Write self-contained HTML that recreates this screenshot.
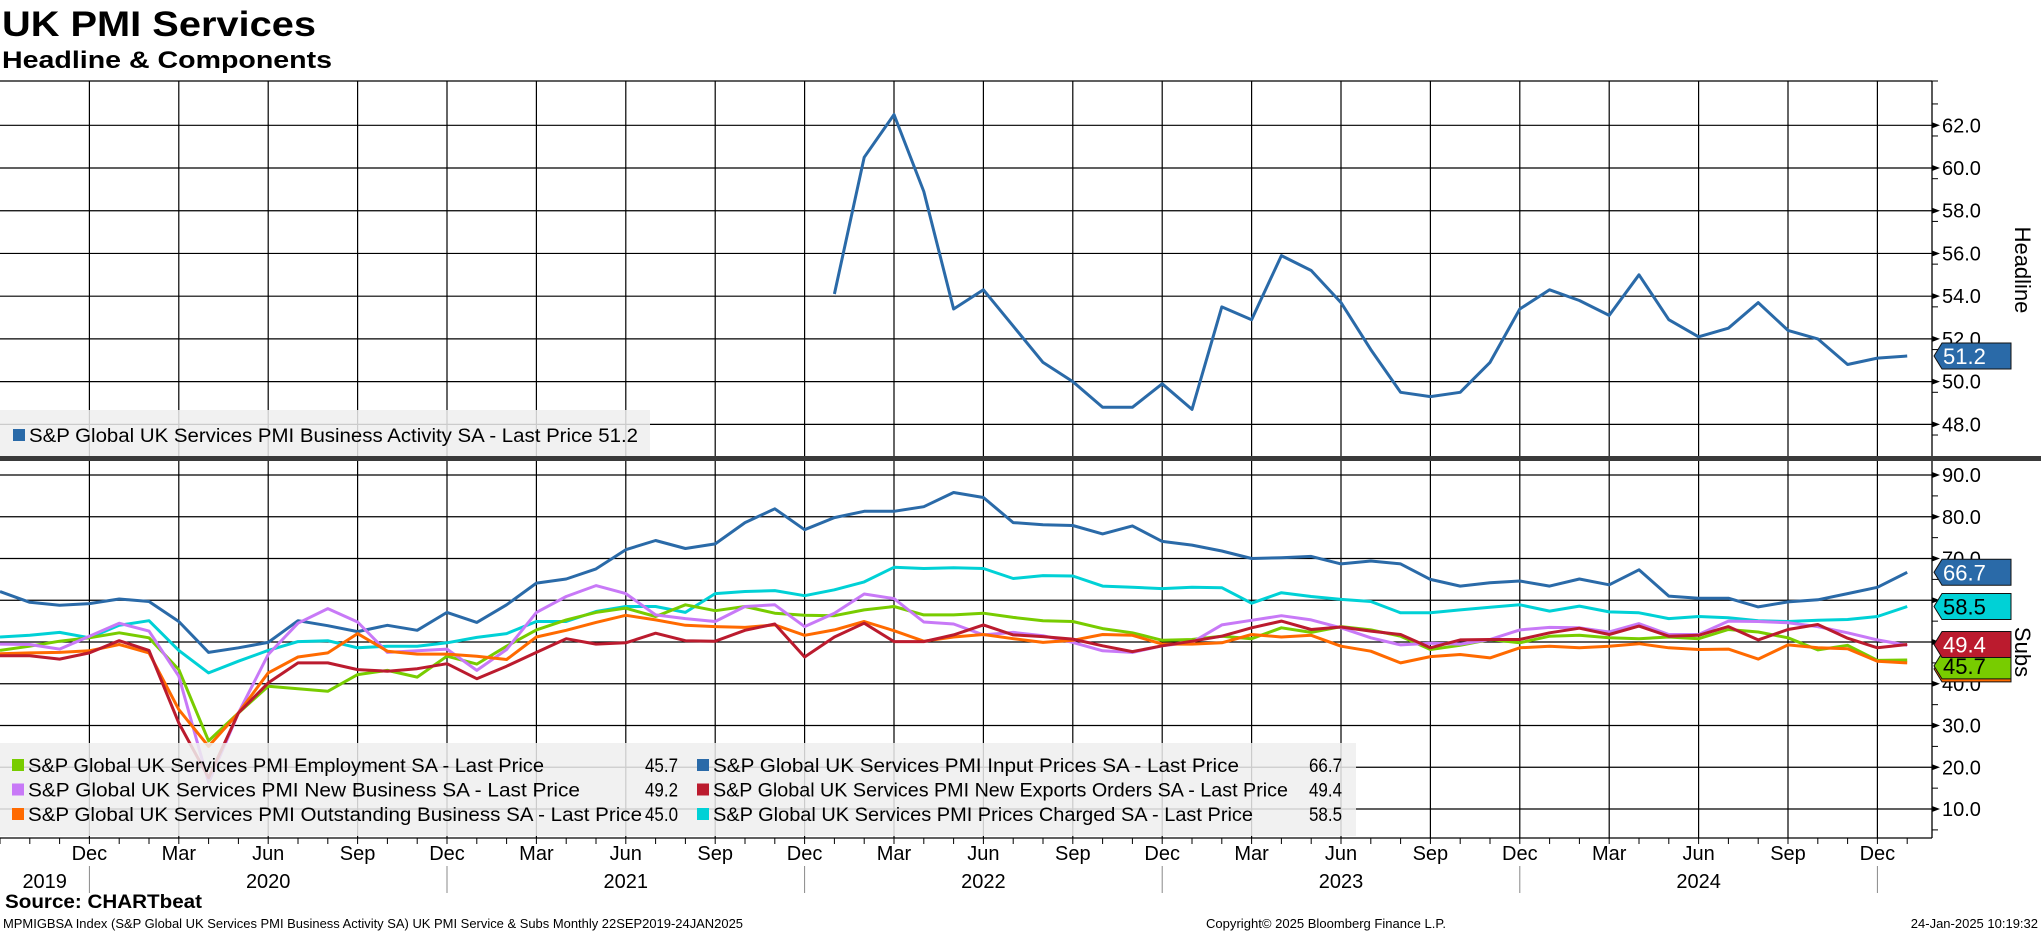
<!DOCTYPE html>
<html><head><meta charset="utf-8"><style>
html,body{margin:0;padding:0;background:#fff;}
svg{display:block;font-family:"Liberation Sans","DejaVu Sans",sans-serif;}
</style></head><body>
<svg id="chart" width="2041" height="932" viewBox="0 0 2041 932" xmlns="http://www.w3.org/2000/svg">
<text x="2" y="36" font-size="35" font-weight="bold" textLength="314" lengthAdjust="spacingAndGlyphs">UK PMI Services</text>
<text x="2" y="68" font-size="24" font-weight="bold" textLength="330" lengthAdjust="spacingAndGlyphs">Headline &amp; Components</text>
<g id="grid"></g>
<g id="lines"></g>
<g id="overlay"></g>
<text x="5" y="908" font-size="19" font-weight="bold" textLength="197" lengthAdjust="spacingAndGlyphs">Source: CHARTbeat</text>
<text x="3" y="928" font-size="13" textLength="740" lengthAdjust="spacingAndGlyphs">MPMIGBSA Index (S&amp;P Global UK Services PMI Business Activity SA) UK PMI Service &amp; Subs  Monthly 22SEP2019-24JAN2025</text>
<text x="1206" y="928" font-size="13" textLength="240" lengthAdjust="spacingAndGlyphs">Copyright© 2025 Bloomberg Finance L.P.</text>
<text x="2038" y="928" font-size="13" text-anchor="end">24-Jan-2025 10:19:32</text>
</svg>
<script>
// months from Sep 2019 (index 0) to Jan 2025 (index 64)
const headlineStart = 28; // Jan 2022
const headline = [54.1,60.5,62.5,58.9,53.4,54.3,52.6,50.9,50.0,48.8,48.8,49.9,48.7,53.5,52.9,55.9,55.2,53.7,51.5,49.5,49.3,49.5,50.9,53.4,54.3,53.8,53.1,55.0,52.9,52.1,52.5,53.7,52.4,52.0,50.8,51.1,51.2];
const inputPrices = [62.1,59.5,58.8,59.2,60.3,59.7,54.9,47.5,48.6,49.9,55.1,53.9,52.5,54.0,52.8,57.1,54.7,58.9,64.1,65.1,67.5,72.1,74.3,72.4,73.5,78.6,81.9,76.9,79.8,81.3,81.3,82.4,85.8,84.6,78.6,78.1,77.9,75.9,77.8,74.1,73.2,71.8,70.0,70.2,70.5,68.7,69.4,68.7,65.0,63.4,64.2,64.6,63.4,65.1,63.7,67.3,61.0,60.5,60.5,58.4,59.6,60.1,61.6,63.1,66.7];
const pricesCharged = [51.2,51.6,52.3,51.0,54.0,55.1,48.0,42.6,45.4,48.0,50.1,50.3,48.6,49.0,49.0,49.8,51.1,52.0,54.9,54.9,57.3,58.5,58.5,57.1,61.6,62.1,62.3,61.1,62.5,64.4,67.9,67.6,67.8,67.6,65.2,65.9,65.8,63.4,63.1,62.8,63.1,63.0,59.3,61.8,60.9,60.2,59.7,57.0,57.0,57.7,58.3,58.9,57.4,58.6,57.2,57.0,55.6,56.1,55.8,55.1,54.9,55.2,55.4,56.1,58.5];
const employment = [48.0,49.0,50.2,51.0,52.2,51.0,43.4,26.3,33.0,39.4,38.8,38.2,42.2,43.2,41.6,46.6,44.7,49.0,52.9,55.3,57.1,58.1,56.1,58.9,57.5,58.5,56.9,56.4,56.3,57.7,58.5,56.5,56.5,56.9,55.9,55.1,54.9,53.2,52.2,50.4,50.6,51.4,50.8,53.4,52.3,53.7,52.9,51.4,48.2,49.2,50.6,49.8,51.4,51.6,51.0,50.8,51.2,50.8,53.0,52.4,51.0,48.1,49.2,45.6,45.7];
const newBusiness = [49.5,49.4,48.3,51.4,54.5,52.6,41.8,16.3,33.0,47.0,54.5,58.0,54.8,47.5,47.9,48.3,43.2,48.2,57.1,60.9,63.5,61.6,56.5,55.6,54.9,58.5,58.9,53.7,56.9,61.5,60.4,54.8,54.3,51.7,52.3,51.5,49.9,47.9,47.5,49.1,49.9,54.1,55.2,56.3,55.3,53.4,51.0,49.3,49.7,49.5,50.6,52.9,53.5,53.4,52.4,54.4,51.8,51.8,55.0,54.9,54.6,53.7,52.2,50.5,49.2];
const newExports = [46.7,46.7,45.9,47.4,50.3,48.0,30.6,17.5,33.0,40.2,45.0,45.0,43.4,43.0,43.6,44.8,41.2,44.2,47.5,50.8,49.5,49.8,52.1,50.3,50.2,52.8,54.3,46.4,51.2,54.5,50.1,50.1,51.7,54.1,51.7,51.3,50.7,49.1,47.7,49.1,50.2,51.4,53.4,55.0,53.0,53.6,52.6,51.8,48.6,50.5,50.6,50.6,52.2,53.3,51.8,53.8,51.4,51.6,53.7,50.5,53.0,54.2,50.9,48.6,49.4];
const outstanding = [47.2,47.4,47.5,47.9,49.4,47.4,33.8,25.0,33.0,42.6,46.4,47.4,52.0,47.8,47.1,47.1,46.6,45.8,51.2,52.8,54.7,56.4,55.3,54.0,53.7,53.5,54.1,51.6,52.9,54.9,52.7,50.2,51.2,51.8,50.8,49.9,50.4,51.8,51.6,49.5,49.5,49.8,51.8,51.2,51.6,49.0,47.8,45.0,46.5,47.0,46.2,48.6,49.0,48.6,49.0,49.6,48.6,48.2,48.3,45.9,49.3,48.6,48.4,45.4,45.0];
const topTicks = [48,50,52,54,56,58,60,62];
const bottomTicks = [10,20,30,40,50,60,70,80,90];
const monthNames = ["Sep","Oct","Nov","Dec","Jan","Feb","Mar","Apr","May","Jun","Jul","Aug"];
const yearLabels = ["2019","2020","2021","2022","2023","2024"];
const yearLabelMonth = [1.5,9,21,33,45,57];

const NS="http://www.w3.org/2000/svg";
const X0=0, MW=29.8, AXIS_X=1932, TOP_Y0=81, SEP_Y=459, BOT_Y1=838;
function xM(i){return X0+i*MW;}
function yTop(v){return 125.3+(62-v)*21.36;}
function yBot(v){return 475+(90-v)*4.175;}
function el(tag,attrs,parent){const e=document.createElementNS(NS,tag);for(const k in attrs)e.setAttribute(k,attrs[k]);parent.appendChild(e);return e;}
const grid=document.getElementById('grid'), lines=document.getElementById('lines'), ov=document.getElementById('overlay');

el('line',{x1:0,x2:AXIS_X,y1:TOP_Y0,y2:TOP_Y0,stroke:'#000','stroke-width':1.3},grid);
topTicks.forEach(v=>{const y=yTop(v);
  const g=el('line',{x1:0,x2:AXIS_X,y1:y,y2:y,stroke:'#000','stroke-width':1.2},grid);
  
  
  el('path',{d:`M${AXIS_X} ${y-3}L${AXIS_X+8} ${y}L${AXIS_X} ${y+3}Z`,fill:'#000'},grid);
  el('line',{x1:AXIS_X,x2:AXIS_X+6,y1:y+10.68,y2:y+10.68,stroke:'#000'},grid);
  const t=el('text',{x:AXIS_X+10,y:y+7,'font-size':20},grid);t.textContent=v.toFixed(1);
  
  
});
el('line',{x1:AXIS_X,x2:AXIS_X+6,y1:yTop(63),y2:yTop(63),stroke:'#000'},grid);
el('line',{x1:AXIS_X,x2:AXIS_X+6,y1:TOP_Y0,y2:TOP_Y0,stroke:'#000'},grid);
bottomTicks.forEach(v=>{const y=yBot(v);
  const g=el('line',{x1:0,x2:AXIS_X,y1:y,y2:y,stroke:'#000','stroke-width':1.2},grid);
  
  
  el('path',{d:`M${AXIS_X} ${y-3}L${AXIS_X+8} ${y}L${AXIS_X} ${y+3}Z`,fill:'#000'},grid);
  el('line',{x1:AXIS_X,x2:AXIS_X+6,y1:y+20.9,y2:y+20.9,stroke:'#000'},grid);
  const t=el('text',{x:AXIS_X+10,y:y+7,'font-size':20},grid);t.textContent=v.toFixed(1);
  
  
});
for(let i=0;i<=65;i++){const x=xM(i);
  if(i%3===0 && i>0 && x<AXIS_X){
    el('line',{x1:x,x2:x,y1:TOP_Y0,y2:BOT_Y1,stroke:'#000','stroke-width':1.2},grid);
    const t=el('text',{x:x,y:860,'font-size':20,'text-anchor':'middle'},grid);t.textContent=monthNames[i%12];
    
    
  }
  if(x<AXIS_X) el('line',{x1:x,x2:x,y1:BOT_Y1,y2:BOT_Y1+6,stroke:'#000'},grid);
  if(i%12===3) el('line',{x1:x,x2:x,y1:866,y2:893,stroke:'#888'},grid);
}
yearLabels.forEach((s,k)=>{const t=el('text',{x:xM(yearLabelMonth[k]),y:888,'font-size':20,'text-anchor':'middle'},grid);t.textContent=s;
  
  });
el('line',{x1:0,x2:AXIS_X,y1:BOT_Y1,y2:BOT_Y1,stroke:'#000','stroke-width':1.3},grid);
el('line',{x1:AXIS_X,x2:AXIS_X,y1:TOP_Y0,y2:BOT_Y1,stroke:'#000','stroke-width':1.3},grid);
const sep=el('rect',{x:0,y:SEP_Y-3,width:2041,height:5,fill:'#3a3a3a'},grid);



function poly(data,start,yf,color,name){
  const pts=data.map((v,i)=>xM(start+i).toFixed(1)+','+yf(v).toFixed(1)).join(' ');
  const p=el('polyline',{points:pts,fill:'none',stroke:color,'stroke-width':3,'stroke-linejoin':'round'},lines);
  
  
}
poly(headline,headlineStart,yTop,'#2a6aa8','headline-business-activity-line');
poly(inputPrices,0,yBot,'#2a6aa8','input-prices-line');
poly(pricesCharged,0,yBot,'#00d1d6','prices-charged-line');
poly(employment,0,yBot,'#78cc00','employment-line');
poly(newBusiness,0,yBot,'#c879f7','new-business-line');
poly(outstanding,0,yBot,'#ff6a00','outstanding-business-line');
poly(newExports,0,yBot,'#bb1b2e','new-exports-line');

function txt(x,y,s,opts,parent,name){const t=el('text',Object.assign({x:x,y:y,'font-size':19},opts||{}),parent);t.textContent=s;
  
  
  return t;}
const lg1=el('rect',{x:0,y:410,width:650,height:46,fill:'rgba(238,238,238,0.85)'},ov);


el('rect',{x:13,y:429,width:12,height:12,fill:'#2a6aa8'},ov);
txt(29,442,'S&P Global UK Services PMI Business Activity SA - Last Price 51.2',{textLength:609,lengthAdjust:'spacingAndGlyphs'},ov,'legend-entry-business-activity');
const lg2=el('rect',{x:0,y:743,width:1356,height:93,fill:'rgba(238,238,238,0.85)'},ov);


const legRows=[
 ['#78cc00','S&P Global UK Services PMI Employment SA - Last Price','45.7','#2a6aa8','S&P Global UK Services PMI Input Prices SA - Last Price','66.7'],
 ['#c879f7','S&P Global UK Services PMI New Business SA - Last Price','49.2','#bb1b2e','S&P Global UK Services PMI New Exports Orders SA - Last Price','49.4'],
 ['#ff6a00','S&P Global UK Services PMI Outstanding Business SA - Last Price','45.0','#00d1d6','S&P Global UK Services PMI Prices Charged SA - Last Price','58.5']];
const lens=[[516,552,614],[526,575,540]];
legRows.forEach((r,k)=>{const y=765+k*24.5;
  el('rect',{x:12,y:y-6,width:12,height:12,fill:r[0]},ov);
  txt(28,y+7,r[1],{textLength:lens[0][k],lengthAdjust:'spacingAndGlyphs'},ov,'legend-entry-left');
  txt(645,y+7,r[2],{textLength:33,lengthAdjust:'spacingAndGlyphs'},ov,'legend-value-left');
  el('rect',{x:697,y:y-6,width:12,height:12,fill:r[3]},ov);
  txt(713,y+7,r[4],{textLength:lens[1][k],lengthAdjust:'spacingAndGlyphs'},ov,'legend-entry-right');
  txt(1309,y+7,r[5],{textLength:33,lengthAdjust:'spacingAndGlyphs'},ov,'legend-value-right');
});

function tag(yc,val,fill,fg,name){
  const g=el('g',{},ov);
  
  
  el('path',{d:`M${AXIS_X+2} ${yc}L${AXIS_X+10} ${yc-13}H2011V${yc+13}H${AXIS_X+10}Z`,fill:fill,stroke:'#111','stroke-width':1},g);
  const t=el('text',{x:AXIS_X+11,y:yc+8,'font-size':22,fill:fg},g);t.textContent=val;
}
tag(yBot(45.0)+6,outstanding[64].toFixed(1),'#ff6a00','#000','outstanding-value-tag');
tag(yBot(45.0)+3,employment[64].toFixed(1),'#78cc00','#000','employment-value-tag');
tag(yBot(49.4),newExports[64].toFixed(1),'#bb1b2e','#fff','new-exports-value-tag');
tag(yBot(58.5),pricesCharged[64].toFixed(1),'#00d1d6','#000','prices-charged-value-tag');
tag(yBot(66.7),inputPrices[64].toFixed(1),'#2a6aa8','#fff','input-prices-value-tag');
tag(yTop(51.2),headline[headline.length-1].toFixed(1),'#2a6aa8','#fff','headline-value-tag');

const a1=el('text',{x:0,y:0,'font-size':22,'text-anchor':'middle',transform:'translate(2015,270) rotate(90)'},ov);a1.textContent='Headline';


const a2=el('text',{x:0,y:0,'font-size':22,'text-anchor':'middle',transform:'translate(2015,652) rotate(90)'},ov);a2.textContent='Subs';


</script>
</body></html>
